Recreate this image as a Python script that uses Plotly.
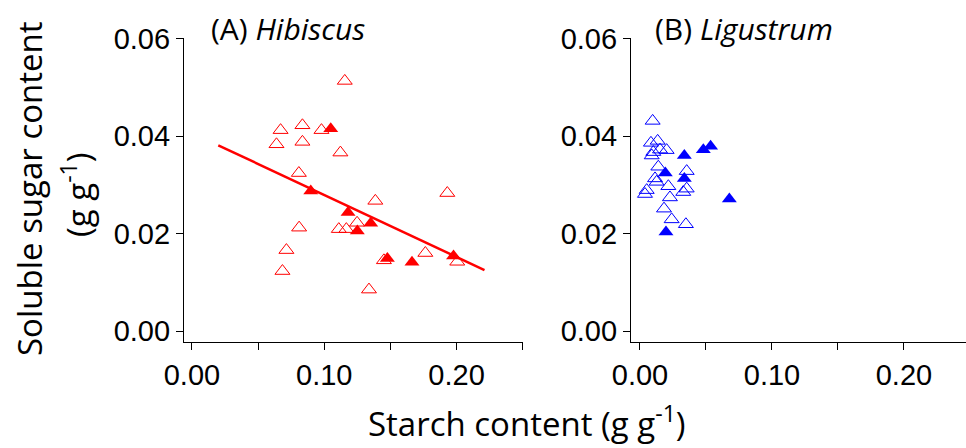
import plotly.graph_objects as go

# ---------------------------------------------------------------------------
# Data (g g-1)
# ---------------------------------------------------------------------------

# (A) Hibiscus
hib_open_x = [0.1155, 0.067, 0.0835, 0.0979, 0.0639, 0.0835, 0.1122, 0.0808,
              0.193, 0.1386, 0.081, 0.111, 0.1167, 0.1248, 0.0714, 0.0684,
              0.1451, 0.1764, 0.2005, 0.1338]
hib_open_y = [0.0513, 0.0412, 0.0422, 0.0412, 0.0383, 0.0388, 0.0366, 0.0324,
              0.0283, 0.0267, 0.0212, 0.0209, 0.0209, 0.0222, 0.0166, 0.0123,
              0.0145, 0.0160, 0.0142, 0.0085]
hib_fill_x = [0.1049, 0.0898, 0.118, 0.125, 0.1351, 0.1477, 0.1663, 0.1977]
hib_fill_y = [0.0415, 0.0287, 0.0243, 0.0205, 0.0221, 0.0149, 0.0141, 0.0154]
hib_fit_x = [0.0199, 0.2211]
hib_fit_y = [0.0381, 0.0125]

# (B) Ligustrum
lig_open_x = [0.0096, 0.0083, 0.0134, 0.0202, 0.0152, 0.0101, 0.0089, 0.0139,
              0.0354, 0.0114, 0.0126, 0.0215, 0.0354, 0.0328, 0.0051, 0.0038,
              0.0227, 0.0182, 0.0240, 0.0348]
lig_open_y = [0.0431, 0.0386, 0.0390, 0.0371, 0.0372, 0.0367, 0.0360, 0.0337,
              0.0328, 0.0313, 0.0306, 0.0297, 0.0292, 0.0285, 0.0289, 0.0281,
              0.0274, 0.0251, 0.0229, 0.0219]
lig_fill_x = [0.0336, 0.0480, 0.0535, 0.0192, 0.0336, 0.0677, 0.0197]
lig_fill_y = [0.0360, 0.0372, 0.0379, 0.0324, 0.0313, 0.0271, 0.0203]

x_tickvals = [0.0, 0.10, 0.20]
x_ticktext = ["0.00", "0.10", "0.20"]
x_minorvals = [0.05, 0.15, 0.25]
y_tickvals = [0.0, 0.02, 0.04, 0.06]
y_ticktext = ["0.00", "0.02", "0.04", "0.06"]

RED = "#FF0000"
BLUE = "#0000FF"
TICK_FONT = dict(family="Liberation Sans, Arial, sans-serif", size=29, color="black")
TEXT_FONT = "Open Sans, Lato, sans-serif"

W, H = 966, 448

fig = go.Figure()

# hibiscus
fig.add_trace(go.Scatter(x=hib_open_x, y=hib_open_y, mode="markers",
                         marker=dict(symbol="triangle-up-open", size=13, color=RED,
                                     line=dict(width=1, color=RED)),
                         xaxis="x", yaxis="y"))
fig.add_trace(go.Scatter(x=hib_fit_x, y=hib_fit_y, mode="lines",
                         line=dict(color=RED, width=2.5),
                         xaxis="x", yaxis="y"))
fig.add_trace(go.Scatter(x=hib_fill_x, y=hib_fill_y, mode="markers",
                         marker=dict(symbol="triangle-up", size=13, color=RED,
                                     line=dict(width=0)),
                         xaxis="x", yaxis="y"))

# ligustrum
fig.add_trace(go.Scatter(x=lig_open_x, y=lig_open_y, mode="markers",
                         marker=dict(symbol="triangle-up-open", size=13, color=BLUE,
                                     line=dict(width=1, color=BLUE)),
                         xaxis="x2", yaxis="y2"))
fig.add_trace(go.Scatter(x=lig_fill_x, y=lig_fill_y, mode="markers",
                         marker=dict(symbol="triangle-up", size=13, color=BLUE,
                                     line=dict(width=0)),
                         xaxis="x2", yaxis="y2"))

ydom = [1 - 342 / H, 1 - 38 / H]
common_x = dict(showline=True, linecolor="black", linewidth=1.2, ticks="outside",
                ticklen=7, tickwidth=1.2, tickcolor="black", showgrid=False,
                zeroline=False, tickvals=x_tickvals, ticktext=x_ticktext,
                minor=dict(tickvals=x_minorvals, ticks="outside", ticklen=7,
                           tickwidth=1.2, tickcolor="black", showgrid=False),
                tickfont=TICK_FONT, automargin=False)
common_y = dict(showline=True, linecolor="black", linewidth=1.2, ticks="outside",
                ticklen=7, tickwidth=1.2, tickcolor="black", showgrid=False,
                zeroline=False, tickvals=y_tickvals, ticktext=y_ticktext,
                tickfont=TICK_FONT, range=[-0.00225, 0.0601], domain=ydom,
                automargin=False)


def _label(text, x, y, size, angle=0, xanchor="center"):
    """Paper-positioned text, placed in reference pixel coordinates."""
    return dict(text=text, x=x / W, y=1 - y / H, xref="paper", yref="paper",
                xanchor=xanchor, yanchor="middle", textangle=angle, showarrow=False,
                font=dict(family=TEXT_FONT, size=size, color="black"))


fig.update_layout(
    width=W, height=H,
    margin=dict(l=0, r=0, t=0, b=0, pad=0, autoexpand=False),
    paper_bgcolor="white", plot_bgcolor="white",
    showlegend=False,
    xaxis=dict(common_x, domain=[184 / W, 523 / W], range=[-0.006, 0.2502], anchor="y"),
    yaxis=dict(common_y, anchor="x"),
    xaxis2=dict(common_x, domain=[631 / W, 1.0], range=[-0.0068, 0.247], anchor="y2"),
    yaxis2=dict(common_y, anchor="x2"),
    annotations=[
        _label("(A) <i>Hibiscus</i>", 209, 28, 30, xanchor="left"),
        _label("(B) <i>Ligustrum</i>", 653, 28, 30, xanchor="left"),
        _label("Soluble sugar content", 29, 189, 33, angle=-90),
        _label("(g g<sup>-1</sup>)", 76, 195, 33, angle=-90),
        _label("Starch content (g g<sup>-1</sup>)", 527, 421, 33),
    ],
)

# page body has a default 8px margin; drop it so the figure fills the window
fig.write_html("out.html", config={"displayModeBar": False},
               post_script="document.body.style.margin='0';document.body.style.overflow='hidden';")
